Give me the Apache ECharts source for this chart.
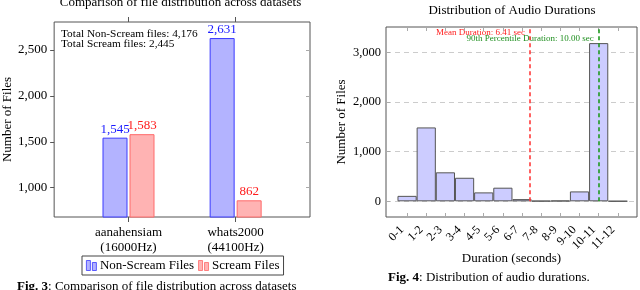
<!DOCTYPE html>
<html><head><meta charset="utf-8">
<script src="https://cdn.jsdelivr.net/npm/echarts@6/dist/echarts.min.js"></script>
<style>html,body{margin:0;padding:0;background:#fff}#c{width:640px;height:290px}</style>
</head><body><div id="c"></div>
<script>
// ---- Data: left chart (file distribution) ----
const datasets = ['aanahensiam\n(16000Hz)', 'whats2000\n(44100Hz)'];
const nonScream = [1545, 2631];
const scream = [1583, 862];
const leftYTicks = [1000, 1500, 2000, 2500];
// ---- Data: right chart (duration histogram) ----
const bins = ['0-1','1-2','2-3','3-4','4-5','5-6','6-7','7-8','8-9','9-10','10-11','11-12'];
const counts = [110, 1490, 585, 475, 180, 275, 45, 10, 15, 200, 3190, 5];
const rightYTicks = [0, 1000, 2000, 3000];
const meanDuration = 6.41;
const p90Duration = 10.00;

const F = 'Liberation Serif';
const fmt = v => Number(v).toLocaleString('en-US');
const sum = a => a.reduce((s, v) => s + v, 0);
const chart = echarts.init(document.getElementById('c'), null, {renderer: 'canvas'});
const AX = '#555';
const L_YMIN = 680, L_YMAX = 2806, R_YMIN = -316, R_YMAX = 3515;
const idx0 = datasets.map((_, i) => i);
const idx1 = bins.map((_, i) => i);
const noLine = {show: false, onZero: false};

const option = {
  animation: false,
  textStyle: {fontFamily: F},
  grid: [
    {left: 52, top: 22, width: 258, height: 195, show: true, borderColor: AX, borderWidth: 1, backgroundColor: 'transparent'},
    {left: 386, top: 27, width: 251, height: 190, show: true, borderColor: AX, borderWidth: 1, backgroundColor: 'transparent'}
  ],
  xAxis: [
    {gridIndex: 0, type: 'value', min: -0.694, max: 1.694, axisLine: noLine, splitLine: {show: false},
     axisTick: {customValues: idx0, length: 5, lineStyle: {color: AX}},
     axisLabel: {customValues: idx0, formatter: v => datasets[Math.round(v)], fontSize: 13, color: '#000', lineHeight: 15, margin: 8, fontFamily: F}},
    {gridIndex: 0, type: 'value', position: 'top', min: -0.694, max: 1.694, axisLine: noLine, splitLine: {show: false},
     axisTick: {customValues: idx0, length: 5, lineStyle: {color: AX}}, axisLabel: {show: false}},
    {gridIndex: 1, type: 'value', min: -1.1, max: 12, axisLine: noLine, splitLine: {show: false},
     axisTick: {customValues: idx1, inside: true, length: 4, lineStyle: {color: '#aaa'}},
     axisLabel: {customValues: idx1, formatter: v => bins[Math.round(v)], rotate: 45, fontSize: 12, color: '#000', margin: 6, padding: [0, 7, 0, 0], fontFamily: F},
     name: 'Duration (seconds)', nameLocation: 'middle', nameGap: 35, nameMoveOverlap: false, nameTextStyle: {fontSize: 13, color: '#000', fontFamily: F}},
    {gridIndex: 1, type: 'value', position: 'top', min: -1.1, max: 12, axisLine: noLine, splitLine: {show: false},
     axisTick: {customValues: idx1, inside: true, length: 4, lineStyle: {color: '#aaa'}}, axisLabel: {show: false}}
  ],
  yAxis: [
    {gridIndex: 0, type: 'value', min: L_YMIN, max: L_YMAX, axisLine: noLine, splitLine: {show: false},
     axisTick: {customValues: leftYTicks, length: 4, lineStyle: {color: AX}},
     axisLabel: {customValues: leftYTicks, formatter: fmt, fontSize: 13, color: '#000', margin: 7, fontFamily: F},
     name: 'Number of Files', nameLocation: 'middle', nameRotate: 90, nameGap: 40, nameTextStyle: {fontSize: 13, color: '#000', fontFamily: F}},
    {gridIndex: 0, type: 'value', position: 'right', min: L_YMIN, max: L_YMAX, axisLine: noLine, splitLine: {show: false},
     axisTick: {customValues: leftYTicks, inside: true, length: 4, lineStyle: {color: '#aaa'}}, axisLabel: {show: false}},
    {gridIndex: 1, type: 'value', min: R_YMIN, max: R_YMAX, axisLine: noLine,
     splitLine: {show: true, lineStyle: {color: '#ccc', type: [5, 4], width: 1}},
     axisTick: {customValues: rightYTicks, inside: true, length: 4, lineStyle: {color: '#aaa'}},
     axisLabel: {customValues: rightYTicks, formatter: fmt, fontSize: 12.5, color: '#000', margin: 5, fontFamily: F},
     name: 'Number of Files', nameLocation: 'middle', nameRotate: 90, nameGap: 38, nameTextStyle: {fontSize: 13, color: '#000', fontFamily: F}}
  ],
  legend: {
    left: 82, top: 256, data: ['Non-Scream Files', 'Scream Files'],
    borderColor: '#444', borderWidth: 1, borderRadius: 0, padding: [3, 4, 3, 4], itemGap: 4,
    itemWidth: 11, itemHeight: 10, icon: 'path://M0,0H4V10H0Z M6,2H10V10H6Z',
    itemStyle: {borderWidth: 0.8},
    textStyle: {fontSize: 13, color: '#000', fontFamily: F, padding: [0, 0, 0, -2]}
  },
  series: [
    {name: 'Non-Scream Files', type: 'bar', xAxisIndex: 0, yAxisIndex: 0, barWidth: 25, barGap: '8%',
     data: nonScream.map((v, i) => [i, v]),
     itemStyle: {color: '#b3b3ff', borderColor: '#3a3aff', borderWidth: 1},
     label: {show: true, position: 'top', distance: 2, formatter: p => fmt(p.value[1]), color: '#1a1aff', fontSize: 13, fontFamily: F}},
    {name: 'Scream Files', type: 'bar', xAxisIndex: 0, yAxisIndex: 0, barWidth: 25, barGap: '8%',
     data: scream.map((v, i) => [i, v]),
     itemStyle: {color: '#ffb3b3', borderColor: '#ff6a6a', borderWidth: 1},
     label: {show: true, position: 'top', distance: 2, formatter: p => fmt(p.value[1]), color: '#ff1a1a', fontSize: 13, fontFamily: F}},
    {name: 'Durations', type: 'bar', xAxisIndex: 2, yAxisIndex: 2, barWidth: 19.2,
     data: counts.map((v, i) => [i, v]),
     itemStyle: {color: '#ccccff', borderColor: '#555', borderWidth: 1},
     markLine: {symbol: 'none', silent: true, label: {show: false}, animation: false,
       data: [
         [{coord: [meanDuration, 0], lineStyle: {color: '#ff3b3b', type: [4, 3], width: 1.6}}, {coord: [meanDuration, R_YMAX]}],
         [{coord: [p90Duration, 0], lineStyle: {color: '#1f9a1f', type: [4, 3], width: 1.6}}, {coord: [p90Duration, R_YMAX]}]
       ]}}
  ]
};
chart.setOption(option);

const pMean = chart.convertToPixel({xAxisIndex: 2, yAxisIndex: 2}, [meanDuration, R_YMAX]);
const p90 = chart.convertToPixel({xAxisIndex: 2, yAxisIndex: 2}, [p90Duration, R_YMAX]);
const g = (x, y, text, extra) => Object.assign({type: 'text', x, y, style: Object.assign({text, fontFamily: F, fontSize: 13, fill: '#000', textVerticalAlign: 'middle'}, extra || {})});
chart.setOption({
  graphic: [
    g(180.5, 3, 'Comparison of file distribution across datasets', {align: 'center'}),
    g(512, 11, 'Distribution of Audio Durations', {align: 'center'}),
    g(61, 34, 'Total Non-Scream files: ' + fmt(sum(nonScream)), {fontSize: 11.3}),
    g(61, 44, 'Total Scream files: ' + fmt(sum(scream)), {fontSize: 11.3}),
    g(pMean[0] - 5, pMean[1] + 5.5, 'Mean Duration: ' + meanDuration.toFixed(2) + ' sec', {align: 'right', fontSize: 9, fill: '#ff2020'}),
    g(p90[0] - 5, p90[1] + 12, '90th Percentile Duration: ' + p90Duration.toFixed(2) + ' sec', {align: 'right', fontSize: 9, fill: '#1f8f1f'}),
    {type: 'text', x: 17, y: 287, style: {text: '{b|Fig. 3}: Comparison of file distribution across datasets', fontFamily: F, fontSize: 13, fill: '#000', textVerticalAlign: 'middle', rich: {b: {fontWeight: 'bold', fontFamily: F, fontSize: 13}}}},
    {type: 'text', x: 388, y: 278, style: {text: '{b|Fig. 4}: Distribution of audio durations.', fontFamily: F, fontSize: 13, fill: '#000', textVerticalAlign: 'middle', rich: {b: {fontWeight: 'bold', fontFamily: F, fontSize: 13}}}}
  ]
});
</script></body></html>
